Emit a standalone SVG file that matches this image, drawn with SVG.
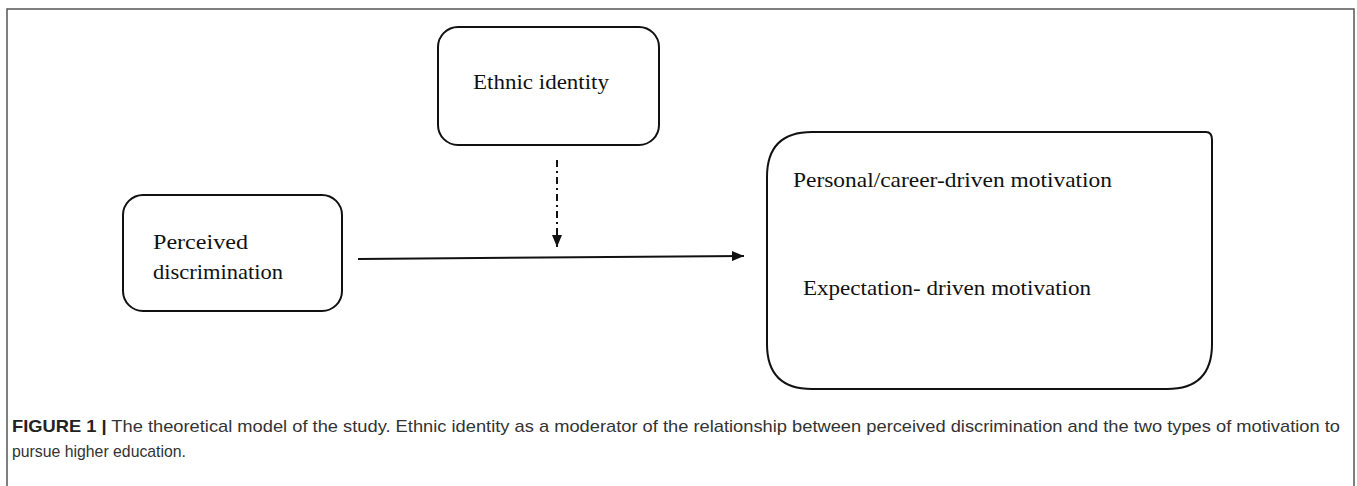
<svg xmlns="http://www.w3.org/2000/svg" width="1357" height="486" viewBox="0 0 1357 486">
<style>
.box{fill:#fff;stroke:#111;stroke-width:2}
.lbl{font-family:"Liberation Serif","DejaVu Serif",serif;font-size:22px;fill:#111}
.cap{font-family:"Liberation Sans",Arial,sans-serif;font-size:17px;fill:#333}
.conn{stroke:#111;stroke-width:2;fill:none}
</style>
<defs>
<marker id="ah" viewBox="0 0 12 10" refX="12" refY="5" markerWidth="12" markerHeight="10" markerUnits="userSpaceOnUse" orient="auto">
<path d="M0,0 L12,5 L0,10 Z" fill="#111"/>
</marker>
</defs>
<rect width="1357" height="486" fill="#fff"/>
<path d="M7,486 V9 H1354 V486" fill="none" stroke="#555" stroke-width="1.5"/>
<g id="ethnic-identity">
<rect class="box" x="438" y="27" width="221" height="118" rx="20"/>
<text class="lbl" x="473" y="89" textLength="136" lengthAdjust="spacingAndGlyphs">Ethnic identity</text>
</g>
<g id="perceived-discrimination">
<rect class="box" x="123" y="195" width="219" height="116" rx="20"/>
<text class="lbl" x="153" y="249" textLength="95" lengthAdjust="spacingAndGlyphs">Perceived</text>
<text class="lbl" x="153" y="279" textLength="130" lengthAdjust="spacingAndGlyphs">discrimination</text>
</g>
<g id="motivation">
<path class="box" d="M812,132 H1206 Q1212,132 1212,140 V344 Q1212,389 1167,389 H812 Q767,389 767,344 V177 Q767,132 812,132 Z"/>
<text class="lbl" x="793" y="187" textLength="319" lengthAdjust="spacingAndGlyphs">Personal/career-driven motivation</text>
<text class="lbl" x="803" y="295" textLength="288" lengthAdjust="spacingAndGlyphs">Expectation- driven motivation</text>
</g>
<g id="connectors">
<path class="conn" d="M358,259 L744,256" marker-end="url(#ah)"/>
<path class="conn" d="M557,160 L557,247" stroke-dasharray="7,4,2,4" marker-end="url(#ah)"/>
</g>
<g id="caption">
<text class="cap" x="12" y="432" textLength="1328" lengthAdjust="spacingAndGlyphs"><tspan font-weight="bold" fill="#222">FIGURE 1</tspan> <tspan font-weight="bold" fill="#222">|</tspan> The theoretical model of the study. Ethnic identity as a moderator of the relationship between perceived discrimination and the two types of motivation to</text>
<text class="cap" x="12" y="457" textLength="174" lengthAdjust="spacingAndGlyphs">pursue higher education.</text>
</g>
</svg>
